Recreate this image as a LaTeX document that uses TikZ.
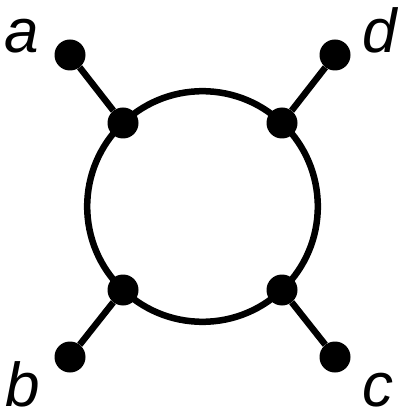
\documentclass[tikz,border=0pt]{standalone}
\usepackage{fontspec}
\setmainfont{Liberation Sans}
\usepackage{tikz}

\begin{document}
\begin{tikzpicture}[x=1pt, y=-1pt,
        punto/.style={circle, fill=black, inner sep=0pt, minimum size=31pt},
        etiqueta/.style={anchor=base, inner sep=0pt, font=\fontsize{62}{70}\selectfont\itshape},
        linea/.style={line width=6.5pt}]
        \useasboundingbox (0,0) rectangle (397,411);
        \coordinate (centro) at (202.5,206.5);
        \draw[linea] (centro) circle (115.3);
        \node[punto] (vA) at (123,123) {};
        \node[punto] (vD) at (282,123) {};
        \node[punto] (vB) at (123,290) {};
        \node[punto] (vC) at (282,290) {};
        \node[punto] (eA) at (70,55) {};
        \node[punto] (eD) at (335,55) {};
        \node[punto] (eB) at (70,357) {};
        \node[punto] (eC) at (335,357) {};
        \draw[linea] (eA) -- (vA);
        \draw[linea] (eD) -- (vD);
        \draw[linea] (eB) -- (vB);
        \draw[linea] (eC) -- (vC);
        \node[etiqueta] (la) at (22,53) {a};
        \node[etiqueta] (ld) at (380,53) {d};
        \node[etiqueta] (lb) at (23,406) {b};
        \node[etiqueta] (lc) at (378,406) {c};
    \end{tikzpicture}
\end{document}
